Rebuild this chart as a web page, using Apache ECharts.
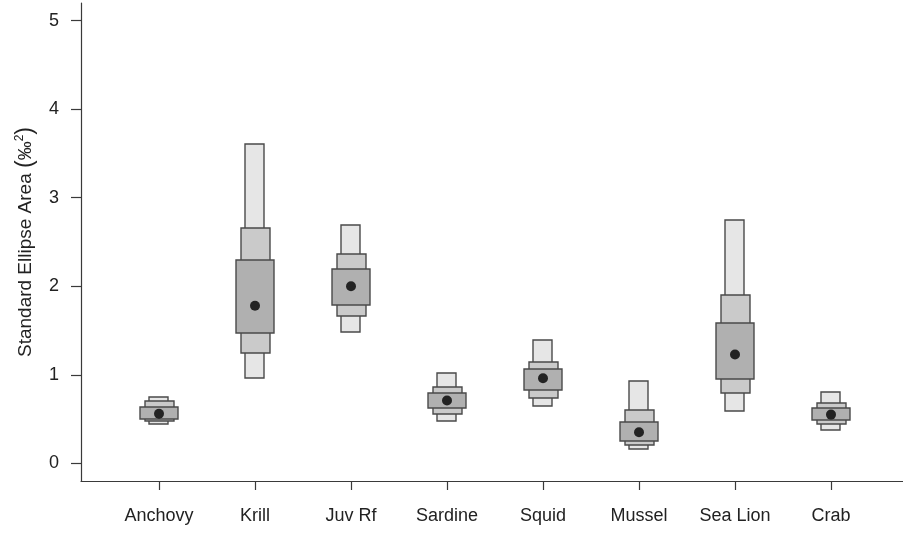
<!DOCTYPE html>
<html>
<head>
<meta charset="utf-8">
<script src="https://cdn.jsdelivr.net/npm/echarts@6/dist/echarts.min.js"></script>
<style>
  html, body { margin: 0; padding: 0; background: #fff; }
  #chart { width: 903px; height: 533px; }
</style>
</head>
<body>
<div id="chart"></div>
<script>
var categories = ["Anchovy", "Krill", "Juv Rf", "Sardine", "Squid", "Mussel", "Sea Lion", "Crab"];
// mode of the posterior SEA
var mode = [0.56, 1.78, 2.0, 0.71, 0.96, 0.35, 1.23, 0.55];
// credible intervals (95, 75, 50 %)
var ci95Lo = [0.44, 0.97, 1.48, 0.48, 0.65, 0.16, 0.59, 0.37];
var ci95Hi = [0.75, 3.61, 2.69, 1.02, 1.39, 0.93, 2.75, 0.80];
var ci75Lo = [0.47, 1.25, 1.67, 0.56, 0.74, 0.21, 0.79, 0.44];
var ci75Hi = [0.70, 2.66, 2.37, 0.86, 1.15, 0.60, 1.90, 0.68];
var ci50Lo = [0.51, 1.47, 1.78, 0.62, 0.82, 0.26, 0.95, 0.48];
var ci50Hi = [0.64, 2.30, 2.19, 0.79, 1.06, 0.47, 1.58, 0.62];
var yTicks = [0, 1, 2, 3, 4, 5];

var boxData = categories.map(function (c, i) {
  return [i + 1, ci95Lo[i], ci95Hi[i], ci75Lo[i], ci75Hi[i], ci50Lo[i], ci50Hi[i]];
});
var modeData = categories.map(function (c, i) {
  return [i + 1, mode[i]];
});

var levels = [
  { lo: 1, hi: 2, w: 0.2, color: "#e6e6e6" },
  { lo: 3, hi: 4, w: 0.3, color: "#cacaca" },
  { lo: 5, hi: 6, w: 0.4, color: "#b0b0b0" }
];

function renderBox(params, api) {
  var x = api.value(0);
  var children = levels.map(function (lv) {
    var top = api.coord([x, api.value(lv.hi)]);
    var bot = api.coord([x, api.value(lv.lo)]);
    var w = api.size([lv.w, 0])[0];
    return {
      type: "rect",
      shape: {
        x: Math.round(top[0] - w / 2),
        y: Math.round(top[1]),
        width: Math.round(w),
        height: Math.round(bot[1] - top[1])
      },
      style: { fill: lv.color, stroke: "#4a4a4a", lineWidth: 1.4 }
    };
  });
  return { type: "group", children: children };
}

var font = "Liberation Sans, Arial, sans-serif";
var myChart = echarts.init(document.getElementById("chart"));
var option = {
  animation: false,
  grid: { left: 81, right: 0, top: 3, bottom: 52 },
  xAxis: {
    type: "value",
    min: 0.1875,
    max: 8.75,
    splitLine: { show: false },
    axisLine: { show: true, onZero: false, lineStyle: { color: "#3a3a3a", width: 1.2 } },
    axisTick: { show: true, length: 9, customValues: [1, 2, 3, 4, 5, 6, 7, 8], lineStyle: { color: "#3a3a3a", width: 1.2 } },
    axisLabel: {
      customValues: [1, 2, 3, 4, 5, 6, 7, 8],
      margin: 26,
      fontSize: 18,
      fontFamily: font,
      color: "#222",
      formatter: function (v) {
        return categories[Math.round(v) - 1] || "";
      }
    }
  },
  yAxis: {
    type: "value",
    min: -0.2,
    max: 5.2,
    splitLine: { show: false },
    axisLine: { show: true, onZero: false, lineStyle: { color: "#3a3a3a", width: 1.2 } },
    axisTick: { show: true, length: 10, customValues: yTicks, lineStyle: { color: "#3a3a3a", width: 1.2 } },
    axisLabel: {
      customValues: yTicks,
      margin: 22,
      fontSize: 18,
      fontFamily: font,
      color: "#222"
    },
    name: "Standard Ellipse Area {par|(}‰{sup|2}{par|)}",
    nameLocation: "middle",
    nameGap: 44,
    nameTextStyle: {
      fontSize: 19,
      fontFamily: font,
      color: "#222",
      rich: {
        par: { fontSize: 23, fontFamily: font, color: "#222" },
        sup: { fontSize: 12, fontFamily: font, color: "#222", verticalAlign: "top", padding: [0, 0, 9, 0] }
      }
    }
  },
  series: [
    {
      type: "custom",
      renderItem: renderBox,
      encode: { x: 0, y: [1, 2] },
      data: boxData,
      z: 2
    },
    {
      type: "scatter",
      data: modeData,
      symbolSize: 10,
      itemStyle: { color: "#000" },
      z: 3
    }
  ]
};
myChart.setOption(option);
</script>
</body>
</html>
